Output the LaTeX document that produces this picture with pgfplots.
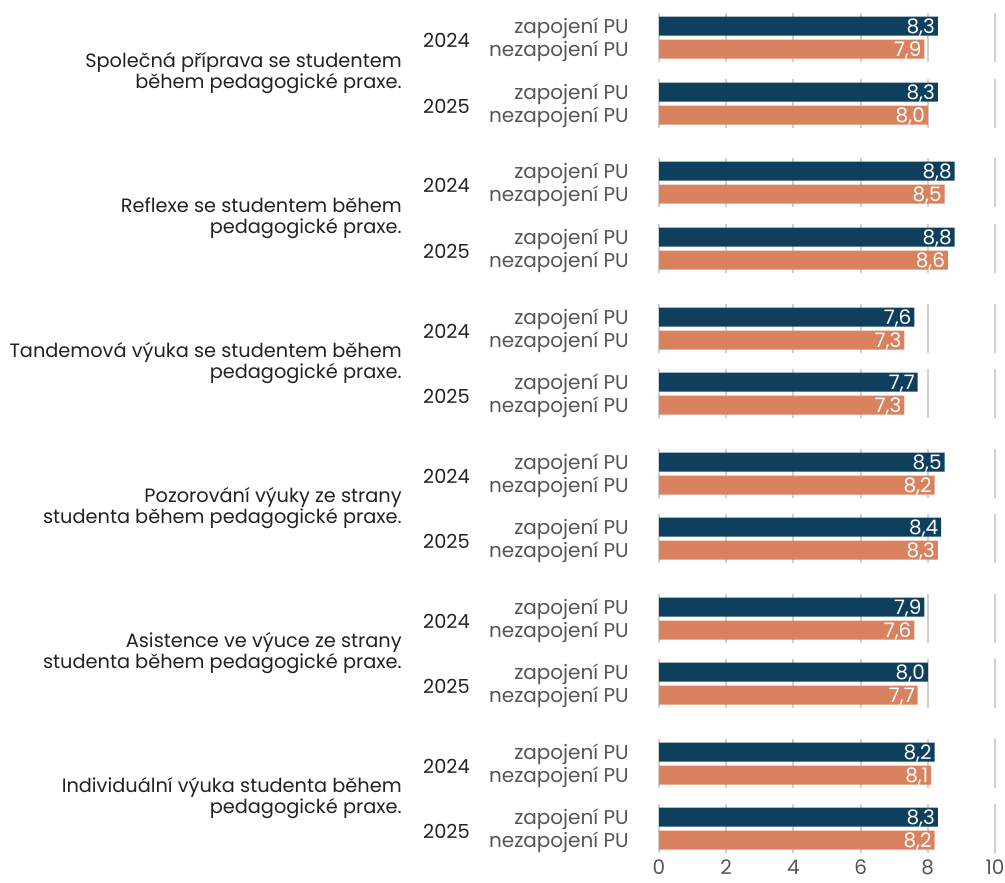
\documentclass[border=0pt]{standalone}
\usepackage{pgfplots}
\pgfplotsset{compat=1.18}
\usepackage{fontspec}
\setmainfont{Poppins}
\definecolor{navy}{HTML}{0E3F5C}
\definecolor{salmon}{HTML}{D9825F}
\definecolor{gridc}{HTML}{D0D0D0}
\definecolor{lab}{HTML}{555555}
\definecolor{txt}{HTML}{222222}
\newcommand{\fs}{\fontsize{15}{16}\selectfont}
\newcommand{\fc}{\fontsize{14.5}{15.75}\selectfont}
\begin{document}
\begin{tikzpicture}
\path[use as bounding box] (0pt,0pt) rectangle (753.75pt,-661.5pt);
\begin{axis}[
  at={(494.25pt,-639.75pt)}, anchor=south west,
  scale only axis, width=252pt, height=636pt,
  xmin=0, xmax=10, ymin=5, ymax=853, y dir=reverse,
  clip=false,
  axis line style={draw=none},
  major tick length=0pt,
  xtick={0,2,4,6,8,10}, ytick=\empty,
  xticklabel style={font=\fs, text=lab, yshift=-1.5pt},
  /pgf/number format/assume math mode=true,
]
\pgfplotsinvokeforeach{26,92,171,237,317,382,462,527,607,672,752,817}{
  \draw[gridc, line width=1.5pt]
    (axis cs:0,{#1-13}) -- (axis cs:0,{#1+36})
    (axis cs:2,{#1-13}) -- (axis cs:2,{#1+36})
    (axis cs:4,{#1-13}) -- (axis cs:4,{#1+36})
    (axis cs:6,{#1-13}) -- (axis cs:6,{#1+36})
    (axis cs:8,{#1-13}) -- (axis cs:8,{#1+36})
    (axis cs:10,{#1-13}) -- (axis cs:10,{#1+36});
  \node[anchor=east, inner sep=0pt, font=\fs, text=lab] at (axis cs:-0.893,{#1+2}) {zapojení PU};
  \node[anchor=east, inner sep=0pt, font=\fs, text=lab] at (axis cs:-0.893,{#1+25}) {nezapojení PU};
}
\addplot[xbar, bar width=19, bar shift=0pt, fill=navy, draw=none,
  point meta=x,
  nodes near coords={\pgfmathprintnumber[fixed,fixed zerofill,precision=1,use comma,assume math mode=true]{\pgfplotspointmeta}},
  every node near coord/.append style={anchor=east, text=white, font=\fs, inner sep=2pt, yshift=-1pt}]
  coordinates {(8.3,26) (8.3,92) (8.8,171) (8.8,237) (7.6,317) (7.7,382) (8.5,462) (8.4,527) (7.9,607) (8.0,672) (8.2,752) (8.3,817)};
\addplot[xbar, bar width=19, bar shift=0pt, fill=salmon, draw=none,
  point meta=x,
  nodes near coords={\pgfmathprintnumber[fixed,fixed zerofill,precision=1,use comma,assume math mode=true]{\pgfplotspointmeta}},
  every node near coord/.append style={anchor=east, text=white, font=\fs, inner sep=2pt, yshift=-1pt}]
  coordinates {(7.9,49) (8.0,115) (8.5,194) (8.6,260) (7.3,340) (7.3,405) (8.2,485) (8.3,550) (7.6,630) (7.7,695) (8.1,775) (8.2,840)};
% years
\pgfplotsinvokeforeach{40.5,185.5,331.5,476.5,621.5,766.5}{
  \node[anchor=east, inner sep=0pt, font=\fc, text=txt] at (axis cs:-5.625,#1) {2024};
}
\pgfplotsinvokeforeach{106.5,251.5,396.5,541.5,686.5,831.5}{
  \node[anchor=east, inner sep=0pt, font=\fc, text=txt] at (axis cs:-5.625,#1) {2025};
}
% categories
\tikzset{cat/.style={anchor=east, inner sep=0pt, font=\fc, text=txt, align=right}}
\node[cat] at (axis cs:-7.649,73) {Společná příprava se studentem\\během pedagogické praxe.};
\node[cat] at (axis cs:-7.649,218) {Reflexe se studentem během\\pedagogické praxe.};
\node[cat] at (axis cs:-7.649,363.5) {Tandemová výuka se studentem během\\pedagogické praxe.};
\node[cat] at (axis cs:-7.649,508.5) {Pozorování výuky ze strany\\studenta během pedagogické praxe.};
\node[cat] at (axis cs:-7.649,653.5) {Asistence ve výuce ze strany\\studenta během pedagogické praxe.};
\node[cat] at (axis cs:-7.649,798.5) {Individuální výuka studenta během\\pedagogické praxe.};
\end{axis}
\end{tikzpicture}
\end{document}
